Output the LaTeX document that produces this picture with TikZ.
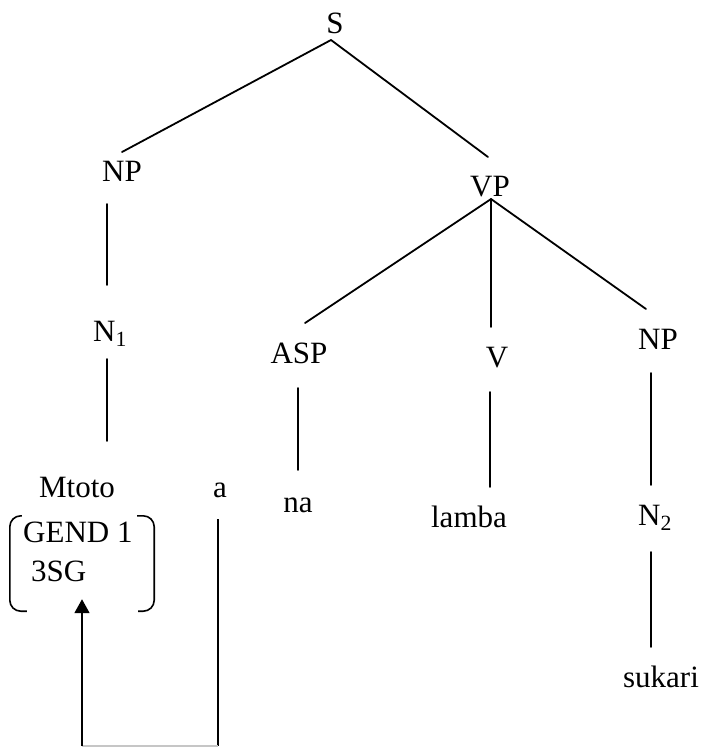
\documentclass[tikz,border=0pt]{standalone}
\usepackage{fontspec}
\setmainfont{Liberation Serif}
\usetikzlibrary{arrows.meta}
\begin{document}
\begin{tikzpicture}[x=1pt,y=-1pt,
  lbl/.style={inner sep=0pt,anchor=base,font=\fontsize{31}{36}\selectfont},
  lblw/.style={lbl,anchor=base west},
  edge/.style={line width=1.8pt,line cap=round},
  brk/.style={line width=1.6pt,rounded corners=11pt}]
\useasboundingbox (0,0) rectangle (702,748);

% tree labels
\node[lbl]  (S)      at (335,33)  {S};
\node[lbl]  (NPa)    at (122,181) {NP};
\node[lblw] (Na)     at (93,341)  {N\textsubscript{1}};
\node[lbl]  (mtoto)  at (77,497)  {Mtoto};
\node[lbl]  (agr)    at (220,497) {a};
\node[lbl]  (VP)     at (490,196) {VP};
\node[lbl]  (ASP)    at (299,363) {ASP};
\node[lbl]  (V)      at (497,367) {V};
\node[lbl]  (NPb)    at (658,349) {NP};
\node[lbl]  (na)     at (298,512) {na};
\node[lbl]  (lamba)  at (469,527) {lamba};
\node[lblw] (Nb)     at (638,525) {N\textsubscript{2}};
\node[lbl]  (sukari) at (661,687) {sukari};

% feature matrix of Mtoto
\node[lblw] (gend) at (23,542) {GEND 1};
\node[lblw] (sg)   at (31,581) {3SG};
\node[inner sep=0pt,minimum width=144pt,minimum height=95pt] (feat) at (82,563.5) {};
\draw[brk] ([xshift=12pt]feat.north west) -- (feat.north west)
           -- (feat.south west) -- ([xshift=17pt]feat.south west);
\draw[brk] ([xshift=-17pt]feat.north east) -- (feat.north east)
           -- (feat.south east) -- ([xshift=-16pt]feat.south east);

% branches
\draw[edge] ([shift={(-4,7)}]S.base) -- ([shift={(0,-29)}]NPa.base);
\draw[edge] ([shift={(-4,7)}]S.base) -- ([shift={(-2,-39)}]VP.base);
\draw[edge] ([shift={(-15,23)}]NPa.base) -- ([shift={(14,-56)}]Na.base west);
\draw[edge] ([shift={(14,18)}]Na.base west) -- ([shift={(30,-56)}]mtoto.base);
\draw[edge] ([shift={(1,3)}]VP.base) -- ([shift={(6,-40)}]ASP.base);
\draw[edge] ([shift={(1,3)}]VP.base) -- ([shift={(-6,-40)}]V.base);
\draw[edge] ([shift={(1,3)}]VP.base) -- ([shift={(-12,-40)}]NPb.base);
\draw[edge] ([shift={(-1,25)}]ASP.base) -- ([shift={(0,-42)}]na.base);
\draw[edge] ([shift={(-7,25)}]V.base) -- ([shift={(21,-40)}]lamba.base);
\draw[edge] ([shift={(-7,24)}]NPb.base) -- ([shift={(13,-40)}]Nb.base west);
\draw[edge] ([shift={(13,27)}]Nb.base west) -- ([shift={(-10,-40)}]sukari.base);

% agreement link from a back to the features of Mtoto
\coordinate (linkR) at (218,746);
\coordinate (linkL) at (82,746);
\draw[edge,line cap=butt] ([shift={(-2,22)}]agr.base) -- (linkR);
\draw[line width=1.2pt,gray!45] (linkR) -- (linkL);
\draw[edge,line cap=butt,-{Triangle[length=14pt,width=15pt]}] (linkL) -- ([yshift=12pt]feat.south);
\end{tikzpicture}
\end{document}
